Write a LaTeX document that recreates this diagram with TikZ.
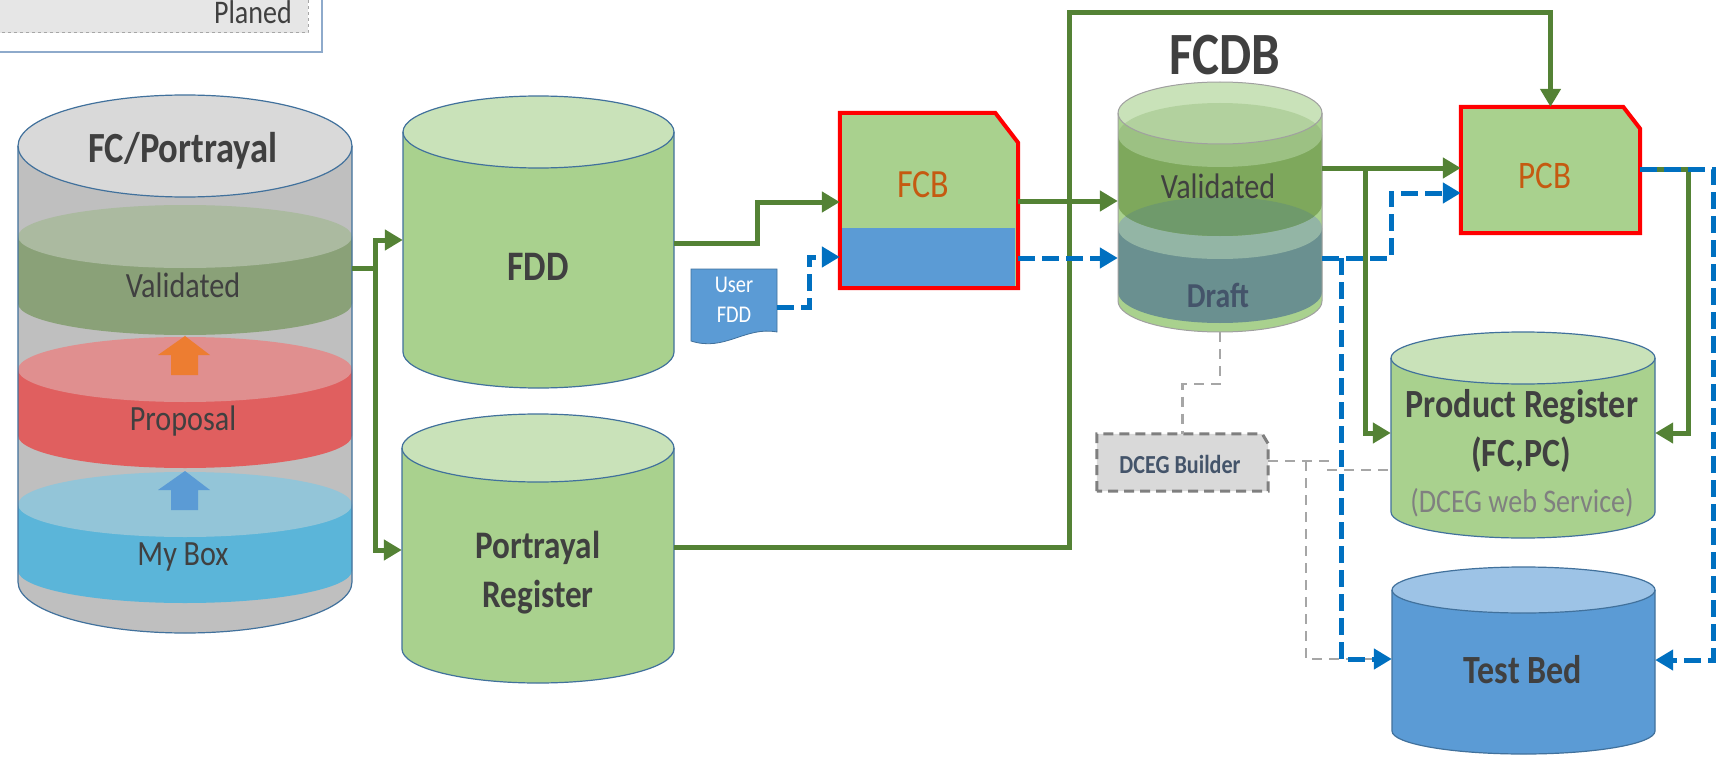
\documentclass[tikz,border=0pt]{standalone}
\usepackage{fontspec}
\setmainfont{Carlito}
\usetikzlibrary{arrows.meta,calc}

\definecolor{cgreen}{HTML}{548235}
\definecolor{cblue}{HTML}{0070C0}
\definecolor{cgray}{HTML}{A6A6A6}
\definecolor{ctext}{HTML}{404040}
\definecolor{cbody}{HTML}{A9D18E}
\definecolor{ctop}{HTML}{C9E2B9}
\definecolor{coutline}{HTML}{41719C}
\definecolor{cgraybody}{HTML}{BFBFBF}
\definecolor{cgraytop}{HTML}{D9D9D9}
\definecolor{valband}{HTML}{8AA178}
\definecolor{valtop}{HTML}{ABBAA0}
\definecolor{propband}{HTML}{E05F5F}
\definecolor{proptop}{HTML}{E08F8F}
\definecolor{mybband}{HTML}{5BB5D9}
\definecolor{mybtop}{HTML}{93C5D8}
\definecolor{corgarrow}{HTML}{ED7D31}
\definecolor{docblue}{HTML}{5B9BD5}
\definecolor{tbtop}{HTML}{9DC3E6}
\definecolor{cred}{HTML}{FF0000}
\definecolor{corange}{HTML}{C55A11}
\definecolor{cslate}{HTML}{44546A}
\definecolor{cdceg}{HTML}{D9D9D9}
\definecolor{cdcegline}{HTML}{7F7F7F}
\definecolor{cserv}{HTML}{808080}
\definecolor{fvband}{HTML}{7EA85C}
\definecolor{fvsurf}{HTML}{9CC183}
\definecolor{drband}{HTML}{6A9090}
\definecolor{drsurf}{HTML}{93B5A5}
\definecolor{overlapc}{HTML}{6F9A6B}
\definecolor{cfcdbline}{HTML}{A0A0A0}
\definecolor{cplanborder}{HTML}{8EAACB}
\definecolor{cplanfill}{HTML}{E6E6E6}

\newcommand{\cnd}[1]{\scalebox{0.85}[1]{#1}}
% name, cx, top, bottom, rx, ry, body colour, top colour
\newcommand{\cylbody}[8]{%
  \fill[#7] ({#2-#5},{#3+#6}) -- ({#2-#5},{#4-#6}) arc[start angle=180,end angle=0,x radius=#5,y radius=#6] -- ({#2+#5},{#3+#6}) -- cycle;
  \fill[#8] (#2,{#3+#6}) ellipse[x radius=#5,y radius=#6];
  \node[inner sep=0,minimum width={2*#5pt},minimum height={(#4-#3)*1pt}] (#1) at (#2,{(#3+#4)/2}) {};
}
% cx, top, bottom, rx, ry, style
\newcommand{\cyloutline}[6]{%
  \draw[#6] ({#1-#4},{#2+#5}) -- ({#1-#4},{#3-#5}) arc[start angle=180,end angle=0,x radius=#4,y radius=#5] -- ({#1+#4},{#2+#5});
  \draw[#6] (#1,{#2+#5}) ellipse[x radius=#4,y radius=#5];
}
% cx, top centre, bottom centre, rx, ry, band, surface
\newcommand{\cylayer}[7]{%
  \fill[#6] ({#1-#4},#2) -- ({#1-#4},#3) arc[start angle=180,end angle=0,x radius=#4,y radius=#5] -- ({#1+#4},#2) -- cycle;
  \fill[#7] (#1,#2) ellipse[x radius=#4,y radius=#5];
}

\tikzset{
  gline/.style={draw=cgreen,line width=5pt},
  garrow/.style={gline,-{Triangle[length=18pt,width=20pt]}},
  bline/.style={draw=cblue,line width=5pt,dash pattern=on 17pt off 7pt},
  barrow/.style={bline,-{Triangle[length=18pt,width=20pt]}},
  gdash/.style={draw=cgray,line width=2.5pt,dash pattern=on 10pt off 7pt},
  lbl/.style={inner sep=0,anchor=base,text=ctext},
  anchorbox/.style={inner sep=0,draw=none},
  outl/.style={draw=coutline,line width=1.2pt},
}

\begin{document}
\begin{tikzpicture}[x=1pt,y=-1pt]
\path[use as bounding box,fill=white] (0,0) rectangle (1729,757);
\clip (0,0) rectangle (1729,757);

% ---- Planed legend box
\node[draw=cplanborder,line width=1.5pt,fill=white,minimum width=332pt,minimum height=62pt,inner sep=0] (plan) at (156,21) {};
\node[draw=cgray,dashed,line width=1pt,fill=cplanfill,minimum width=318pt,minimum height=43pt,inner sep=0] (plani) at (149,11.5) {};
\node[lbl,anchor=base east,font=\fontsize{33}{33}\selectfont] (planed) at (292,23.5) {\cnd{Planed}};

% ---- FC/Portrayal cylinder
\cylbody{fc}{185}{95}{633}{167}{51}{cgraybody}{cgraytop}
\cylayer{185}{236.5}{303.5}{167}{31.5}{valband}{valtop}
\cylayer{185}{369.5}{435.5}{167}{32.5}{propband}{proptop}
\cylayer{185}{504.5}{570.5}{167}{32.5}{mybband}{mybtop}
\fill[corgarrow] (185,336) -- (210,355) -- (198,355) -- (198,375) -- (171,375) -- (171,355) -- (158,355) -- cycle;
\fill[docblue] (185,471) -- (210,490) -- (198,490) -- (198,510) -- (171,510) -- (171,490) -- (158,490) -- cycle;
\cyloutline{185}{95}{633}{167}{51}{outl}
\node[lbl,font=\bfseries\fontsize{43}{43}\selectfont] (fct) at (183,162) {\cnd{FC/Portrayal}};
\node[lbl,font=\fontsize{35.5}{36}\selectfont] (fcv) at (183,297) {\cnd{Validated}};
\node[lbl,font=\fontsize{35.5}{36}\selectfont] (fcp) at (183,430) {\cnd{Proposal}};
\node[lbl,font=\fontsize{35.5}{36}\selectfont] (fcm) at (183,565) {\cnd{My Box}};

% ---- FDD
\cylbody{fdd}{538.5}{96}{388}{135.5}{36}{cbody}{ctop}
\cyloutline{538.5}{96}{388}{135.5}{36}{outl}
\node[lbl,font=\bfseries\fontsize{42}{42}\selectfont] (fddt) at (538,280) {\cnd{FDD}};

% ---- Portrayal Register
\cylbody{pr}{538}{414}{683}{136}{34}{cbody}{ctop}
\cyloutline{538}{414}{683}{136}{34}{outl}
\node[lbl,font=\bfseries\fontsize{39}{39}\selectfont] (prt1) at (538,558) {\cnd{Portrayal}};
\node[lbl,font=\bfseries\fontsize{39}{39}\selectfont] (prt2) at (538,607) {\cnd{Register}};

% ---- User FDD document
\node[anchorbox,minimum width=86pt,minimum height=76pt] (ufdd) at (734,307) {};
\filldraw[fill=docblue,draw=coutline,line width=0.8pt] (691,269) -- (777,269) -- (777,332) .. controls (745,326) and (725,352) .. (691,341) -- cycle;
\node[lbl,text=white,font=\fontsize{24}{24}\selectfont] (uf1) at (734,292) {\cnd{User}};
\node[lbl,text=white,font=\fontsize{24}{24}\selectfont] (uf2) at (734,322) {\cnd{FDD}};

% ---- FCB
\node[anchorbox,minimum width=178pt,minimum height=175pt] (fcb) at (929,200.5) {};
\fill[cbody] (fcb.south west) -- (fcb.north west) -- ([xshift=-23pt]fcb.north east) -- ([yshift=-30pt]fcb.north east) -- (fcb.south east) -- cycle;
\fill[docblue] ([yshift=60pt]fcb.south west) rectangle ([xshift=-3pt]fcb.south east);
\draw[cred,line width=4pt] (fcb.south west) -- (fcb.north west) -- ([xshift=-23pt]fcb.north east) -- ([yshift=-30pt]fcb.north east) -- (fcb.south east) -- cycle;
\node[lbl,text=corange,font=\fontsize{40}{40}\selectfont] (fcbt) at (923,197) {\cnd{FCB}};

% ---- FCDB
\node[lbl,font=\bfseries\fontsize{60}{60}\selectfont] (fcdbt) at (1225,75) {\cnd{FCDB}};
\cylbody{fcdb}{1220}{82}{332}{102}{31}{cbody}{ctop}
\cylayer{1220}{228}{292}{102}{31}{drband}{drsurf}
\cylayer{1220}{135}{204}{102}{32}{fvband}{fvsurf}
\begin{scope}
  \clip (1220,228) ellipse[x radius=102,y radius=31];
  \fill[overlapc] (1118,167) -- (1118,204) arc[start angle=180,end angle=0,x radius=102,y radius=32] -- (1322,167) -- cycle;
\end{scope}
\fill[ctop,opacity=0.5] (1220,113) ellipse[x radius=102,y radius=31];
\cyloutline{1220}{82}{332}{102}{31}{draw=cfcdbline,line width=1pt}
\node[lbl,font=\fontsize{35.5}{36}\selectfont] (fcdbv) at (1218,198) {\cnd{Validated}};
\node[lbl,text=cslate,font=\bfseries\fontsize{35}{35}\selectfont] (fcdbd) at (1218,307) {\cnd{Draft}};

% ---- PCB
\node[anchorbox,minimum width=179pt,minimum height=126pt] (pcb) at (1550.5,170) {};
\fill[cbody] (pcb.south west) -- (pcb.north west) -- ([xshift=-17pt]pcb.north east) -- ([yshift=-22pt]pcb.north east) -- (pcb.south east) -- cycle;
\draw[cred,line width=4pt] (pcb.south west) -- (pcb.north west) -- ([xshift=-17pt]pcb.north east) -- ([yshift=-22pt]pcb.north east) -- (pcb.south east) -- cycle;
\node[lbl,text=corange,font=\fontsize{39}{39}\selectfont] (pcbt) at (1545,188) {\cnd{PCB}};

% ---- Product Register
\cylbody{prod}{1523}{332}{538}{132}{26}{cbody}{ctop}
\cyloutline{1523}{332}{538}{132}{26}{outl}
\node[lbl,font=\bfseries\fontsize{40}{40}\selectfont] (prodt1) at (1522,417) {\cnd{Product Register}};
\node[lbl,font=\bfseries\fontsize{40}{40}\selectfont] (prodt2) at (1521,466) {\cnd{(FC,PC)}};
\node[lbl,text=cserv,font=\fontsize{33}{33}\selectfont] (prodt3) at (1522,512) {\cnd{(DCEG web Service)}};

% ---- Test Bed
\cylbody{tb}{1523.5}{567}{754}{131.5}{23}{docblue}{tbtop}
\cyloutline{1523.5}{567}{754}{131.5}{23}{outl}
\node[lbl,font=\bfseries\fontsize{40}{40}\selectfont] (tbt) at (1523,683) {\cnd{Test Bed}};

% ---- DCEG Builder
\node[anchorbox,minimum width=171pt,minimum height=57pt] (dceg) at (1182.5,462.5) {};
\filldraw[fill=cdceg,draw=cdcegline,line width=3pt,dash pattern=on 10pt off 6pt] (dceg.south west) -- (dceg.north west) -- ([xshift=-6pt]dceg.north east) -- ([yshift=-10pt]dceg.north east) -- (dceg.south east) -- cycle;
\node[lbl,text=cslate,font=\bfseries\fontsize{26}{26}\selectfont] (dcegt) at (1180,473) {\cnd{DCEG Builder}};

% ---- grey dashed connectors
\draw[gdash] (fcdb.south) -- (1220,384) -| (dceg.north);
\draw[gdash] (dceg.east|-0,461) -- (1328,461) -- (1328,470) -- (prod.west|-0,470);
\draw[gdash] (1306,461) |- (tb.west|-0,659);

% ---- green connectors
\coordinate (j1) at (375,268);
\draw[gline] (fc.east|-0,268) -- (j1);
\draw[garrow] (j1) |- (fdd.west|-0,240);
\draw[garrow] (j1) |- (pr.west|-0,550);
\draw[garrow] (fdd.east|-0,243) -- (757,243) -- (757,202) -- (fcb.west|-0,202);
\draw[garrow] (pr.east|-0,547) -| (1069,13) -| (pcb.north);
\draw[garrow] (fcb.east|-0,201) -- (fcdb.west|-0,201);
\draw[garrow] (fcdb.east|-0,168) -- (pcb.west|-0,168);
\coordinate (j2) at (1365,168);
\draw[garrow] (j2) |- (prod.west|-0,433);
\draw[garrow] (pcb.east|-0,169) -- (1688,169) |- (prod.east|-0,433);

% ---- blue dashed connectors
\draw[barrow] (ufdd.east|-0,307) -- (809,307) -- (809,257) -- (fcb.west|-0,257);
\draw[barrow] (fcb.east|-0,258) -- (fcdb.west|-0,258);
\draw[barrow] (fcdb.east|-0,258) -- (1391,258) -- (1391,193) -- (pcb.west|-0,193);
\coordinate (j3) at (1341,258);
\draw[barrow] (j3) |- (tb.west|-0,659);
\draw[barrow] (pcb.east|-0,169) -- (1713,169) |- (tb.east|-0,660);
\end{tikzpicture}
\end{document}
